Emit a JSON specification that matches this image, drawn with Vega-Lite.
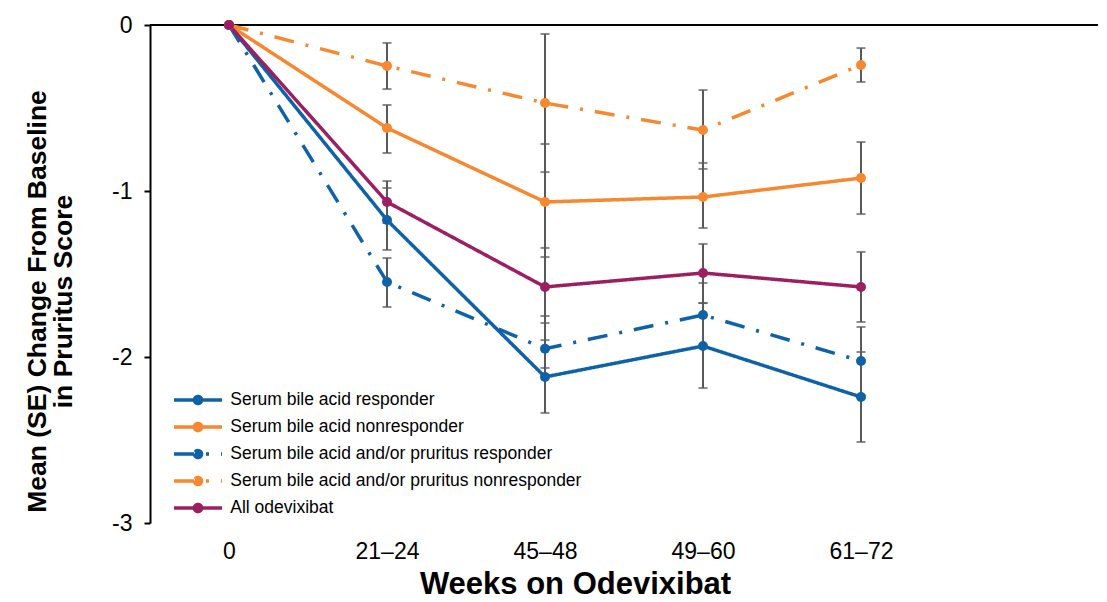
{
  "$schema": "https://vega.github.io/schema/vega-lite/v6.json",
  "width": 948,
  "height": 498,
  "autosize": {"type": "none"},
  "padding": {"left": 150, "top": 25, "right": 9, "bottom": 79},
  "background": "white",
  "config": {
    "view": {"stroke": null},
    "font": "Liberation Sans",
    "axis": {"labelFont": "Liberation Sans", "titleFont": "Liberation Sans", "labelColor": "black", "titleColor": "black", "grid": false}
  },
  "data": {
    "values": [
      {"series": "Serum bile acid responder", "week": "0", "mean": 0, "lo": null, "hi": null},
      {"series": "Serum bile acid responder", "week": "21–24", "mean": -1.175, "lo": -0.982, "hi": -1.355},
      {"series": "Serum bile acid responder", "week": "45–48", "mean": -2.12, "lo": -1.898, "hi": -2.337},
      {"series": "Serum bile acid responder", "week": "49–60", "mean": -1.934, "lo": -1.675, "hi": -2.187},
      {"series": "Serum bile acid responder", "week": "61–72", "mean": -2.241, "lo": -1.97, "hi": -2.512},
      {"series": "Serum bile acid nonresponder", "week": "0", "mean": 0, "lo": null, "hi": null},
      {"series": "Serum bile acid nonresponder", "week": "21–24", "mean": -0.62, "lo": -0.482, "hi": -0.771},
      {"series": "Serum bile acid nonresponder", "week": "45–48", "mean": -1.066, "lo": -0.717, "hi": -1.398},
      {"series": "Serum bile acid nonresponder", "week": "49–60", "mean": -1.036, "lo": -0.831, "hi": -1.223},
      {"series": "Serum bile acid nonresponder", "week": "61–72", "mean": -0.922, "lo": -0.705, "hi": -1.139},
      {"series": "Serum bile acid and/or pruritus responder", "week": "0", "mean": 0, "lo": null, "hi": null},
      {"series": "Serum bile acid and/or pruritus responder", "week": "21–24", "mean": -1.548, "lo": -1.404, "hi": -1.699},
      {"series": "Serum bile acid and/or pruritus responder", "week": "45–48", "mean": -1.95, "lo": -1.753, "hi": -2.066},
      {"series": "Serum bile acid and/or pruritus responder", "week": "49–60", "mean": -1.747, "lo": -1.554, "hi": -1.94},
      {"series": "Serum bile acid and/or pruritus responder", "week": "61–72", "mean": -2.024, "lo": -1.819, "hi": -2.229},
      {"series": "Serum bile acid and/or pruritus nonresponder", "week": "0", "mean": 0, "lo": null, "hi": null},
      {"series": "Serum bile acid and/or pruritus nonresponder", "week": "21–24", "mean": -0.247, "lo": -0.108, "hi": -0.386},
      {"series": "Serum bile acid and/or pruritus nonresponder", "week": "45–48", "mean": -0.47, "lo": -0.054, "hi": -0.886},
      {"series": "Serum bile acid and/or pruritus nonresponder", "week": "49–60", "mean": -0.633, "lo": -0.392, "hi": -0.867},
      {"series": "Serum bile acid and/or pruritus nonresponder", "week": "61–72", "mean": -0.241, "lo": -0.139, "hi": -0.343},
      {"series": "All odevixibat", "week": "0", "mean": 0, "lo": null, "hi": null},
      {"series": "All odevixibat", "week": "21–24", "mean": -1.066, "lo": -0.94, "hi": -1.193},
      {"series": "All odevixibat", "week": "45–48", "mean": -1.578, "lo": -1.343, "hi": -1.795},
      {"series": "All odevixibat", "week": "49–60", "mean": -1.494, "lo": -1.319, "hi": -1.675},
      {"series": "All odevixibat", "week": "61–72", "mean": -1.578, "lo": -1.367, "hi": -1.789}
    ]
  },
  "encoding": {
    "x": {
      "field": "week", "type": "ordinal",
      "scale": {"type": "point", "domain": ["0", "21–24", "45–48", "49–60", "61–72", " "], "padding": 0.5},
      "axis": {
        "title": "Weeks on Odevixibat", "titleFontSize": 31, "titleFontWeight": "bold",
        "titleX": 425, "titleY": 61, "titleBaseline": "middle",
        "labelFontSize": 23, "labelPadding": 17, "labelAngle": 0,
        "domain": false, "ticks": false
      }
    },
    "y": {
      "field": "mean", "type": "quantitative",
      "scale": {"domain": [-3, 0], "nice": false, "zero": false},
      "axis": {
        "title": ["Mean (SE) Change From Baseline", "in Pruritus Score"],
        "titleFontSize": 26.5, "titleFontWeight": "bold", "titleLineHeight": 26,
        "titleX": -113, "titleY": 276, "titleAngle": -90, "titleAlign": "center", "titleBaseline": "middle",
        "values": [0, -1, -2, -3],
        "labelExpr": "datum.value == 0 ? '0' : '-' + abs(datum.value)",
        "labelFontSize": 23, "labelPadding": 12,
        "domainColor": "black", "domainWidth": 2,
        "tickColor": "black", "tickWidth": 2, "tickSize": 6
      }
    }
  },
  "layer": [
    {
      "mark": {"type": "rule", "color": "black", "strokeWidth": 2},
      "encoding": {"y": {"datum": 0}, "x": null}
    },
    {
      "transform": [{"filter": "isValid(datum.lo)"}],
      "mark": {"type": "errorbar", "color": "#595959", "thickness": 2, "ticks": {"size": 9, "thickness": 2, "color": "#595959"}},
      "encoding": {
        "y": {"field": "lo", "type": "quantitative"},
        "y2": {"field": "hi"}
      }
    },
    {
      "mark": {"type": "line", "strokeWidth": 3.5},
      "encoding": {
        "color": {
          "field": "series", "type": "nominal",
          "scale": {
            "domain": ["Serum bile acid responder", "Serum bile acid nonresponder", "Serum bile acid and/or pruritus responder", "Serum bile acid and/or pruritus nonresponder", "All odevixibat"],
            "range": ["#0F62A8", "#F7882F", "#0F62A8", "#F7882F", "#9C1F62"]
          },
          "legend": {
            "title": null, "orient": "none", "legendX": 39.25, "legendY": 366.25, "padding": 0,
            "symbolType": "M-4,0H4M-0.6,0A0.6,0.6,0,1,0,0.6,0A0.6,0.6,0,1,0,-0.6,0",
            "symbolSize": 144, "symbolStrokeWidth": 3.5,
            "labelFont": "Liberation Sans", "labelFontSize": 17.5, "labelColor": "black", "labelOffset": 23.5,
            "rowPadding": 5, "labelLimit": 600,
            "encode": {"symbols": {"update": {"fill": {"scale": "color", "field": "value"}, "fillOpacity": {"value": 1}}}}
          }
        },
        "strokeDash": {
          "field": "series", "type": "nominal",
          "scale": {
            "domain": ["Serum bile acid responder", "Serum bile acid nonresponder", "Serum bile acid and/or pruritus responder", "Serum bile acid and/or pruritus nonresponder", "All odevixibat"],
            "range": [[1, 0], [1, 0], [20, 12, 3, 12], [20, 12, 3, 12], [1, 0]]
          },
          "legend": {
            "title": null, "orient": "none", "legendX": 39.25, "legendY": 366.25, "padding": 0,
            "symbolType": "M-4,0H4M-0.6,0A0.6,0.6,0,1,0,0.6,0A0.6,0.6,0,1,0,-0.6,0",
            "symbolSize": 144, "symbolStrokeWidth": 3.5,
            "labelFont": "Liberation Sans", "labelFontSize": 17.5, "labelColor": "black", "labelOffset": 23.5,
            "rowPadding": 5, "labelLimit": 600,
            "encode": {"symbols": {"update": {"fill": {"scale": "color", "field": "value"}, "fillOpacity": {"value": 1}}}}
          }
        }
      }
    },
    {
      "mark": {"type": "point", "filled": true, "size": 100, "opacity": 1},
      "encoding": {
        "color": {"field": "series", "type": "nominal", "legend": null}
      }
    }
  ]
}
